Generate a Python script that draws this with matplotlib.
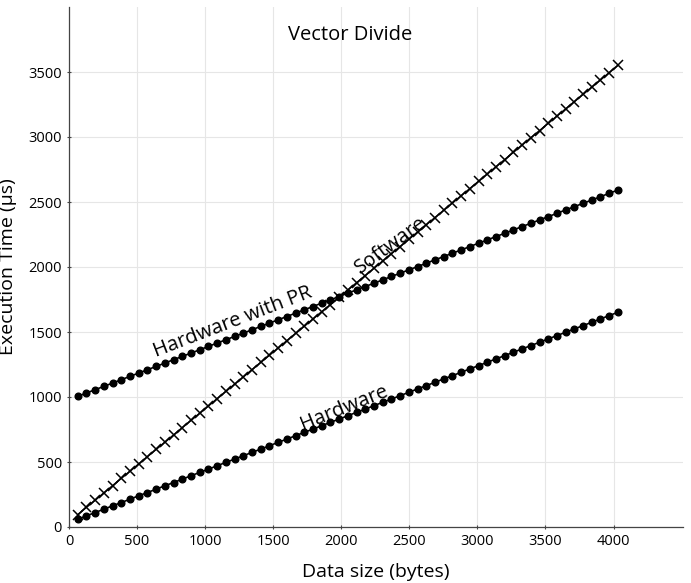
import matplotlib
matplotlib.use("Agg")
import matplotlib.pyplot as plt

plt.rcParams['font.family'] = ['Open Sans', 'DejaVu Sans']

data_size = [64, 128, 192, 256, 320, 384, 448, 512, 576, 640, 704, 768, 832, 896, 960, 1024,
             1088, 1152, 1216, 1280, 1344, 1408, 1472, 1536, 1600, 1664, 1728, 1792, 1856, 1920,
             1984, 2048, 2112, 2176, 2240, 2304, 2368, 2432, 2496, 2560, 2624, 2688, 2752, 2816,
             2880, 2944, 3008, 3072, 3136, 3200, 3264, 3328, 3392, 3456, 3520, 3584, 3648, 3712,
             3776, 3840, 3904, 3968, 4032]

software = [95, 151, 206, 262, 318, 374, 429, 485, 541, 597, 652, 708, 764, 820, 875, 931,
            987, 1043, 1098, 1154, 1210, 1266, 1321, 1377, 1433, 1489, 1544, 1600, 1656, 1711,
            1767, 1823, 1879, 1934, 1990, 2046, 2102, 2157, 2213, 2269, 2325, 2380, 2436, 2492,
            2548, 2603, 2659, 2715, 2771, 2826, 2882, 2938, 2994, 3049, 3105, 3161, 3216, 3272,
            3328, 3384, 3439, 3495, 3551]

hardware_pr = [1005, 1031, 1056, 1082, 1107, 1133, 1159, 1184, 1210, 1235, 1261, 1287, 1312, 1338,
               1363, 1389, 1415, 1440, 1466, 1491, 1517, 1543, 1568, 1594, 1619, 1645, 1671, 1696,
               1722, 1747, 1773, 1799, 1824, 1850, 1875, 1901, 1927, 1952, 1978, 2003, 2029, 2055,
               2080, 2106, 2131, 2157, 2183, 2208, 2234, 2259, 2285, 2311, 2336, 2362, 2387, 2413,
               2439, 2464, 2490, 2515, 2541, 2567, 2592]

hardware = [60, 86, 111, 137, 163, 188, 214, 240, 265, 291, 317, 342, 368, 394, 420, 445,
            471, 497, 522, 548, 574, 599, 625, 651, 676, 702, 728, 753, 779, 805, 830, 856,
            882, 907, 933, 959, 984, 1010, 1036, 1062, 1087, 1113, 1139, 1164, 1190, 1216,
            1241, 1267, 1293, 1318, 1344, 1370, 1395, 1421, 1447, 1472, 1498, 1524, 1549,
            1575, 1601, 1626, 1652]

x_ticks = [0, 500, 1000, 1500, 2000, 2500, 3000, 3500, 4000]
y_ticks = [0, 500, 1000, 1500, 2000, 2500, 3000, 3500]

fig = plt.figure(figsize=(6.91, 5.83), dpi=100)
ax = fig.add_axes([69/691, 56/583, 614/691, 520/583])

ax.plot(data_size, software, color='black', lw=1.1, marker='x', markersize=7, mew=1.1)
ax.plot(data_size, hardware_pr, color='black', lw=1.2, marker='o', markersize=4.8)
ax.plot(data_size, hardware, color='black', lw=1.2, marker='o', markersize=4.8)

ax.set_xlim(0, 4510)
ax.set_ylim(0, 4000)
ax.set_xticks(x_ticks)
ax.set_xticklabels([str(v) for v in x_ticks])
ax.set_yticks(y_ticks)
ax.set_yticklabels([str(v) for v in y_ticks])
ax.grid(True, color='#e6e6e6', lw=0.8)
ax.set_axisbelow(True)
for s in ['top', 'right']:
    ax.spines[s].set_visible(False)
for s in ['left', 'bottom']:
    ax.spines[s].set_color('#444444')
    ax.spines[s].set_linewidth(0.9)
ax.tick_params(axis='both', labelsize=10.5, length=3, color='#444444', direction='inout')

ax.set_xlabel('Data size (bytes)', fontsize=14, labelpad=10)
ax.set_ylabel('Execution Time (µs)', fontsize=14)
ax.yaxis.set_label_coords(-0.085, 0.5)

ax.text(0.458, 0.946, 'Vector Divide', transform=ax.transAxes, ha='center', va='center', fontsize=14.5)

ax.text(1206, 1577, 'Hardware with PR', rotation=21, ha='center', va='center', fontsize=14.5)
ax.text(2360, 2169, 'Software', rotation=36, ha='center', va='center', fontsize=14.5)
ax.text(2022, 915, 'Hardware', rotation=22, ha='center', va='center', fontsize=14.5)

fig.savefig('out.png', dpi=100)
